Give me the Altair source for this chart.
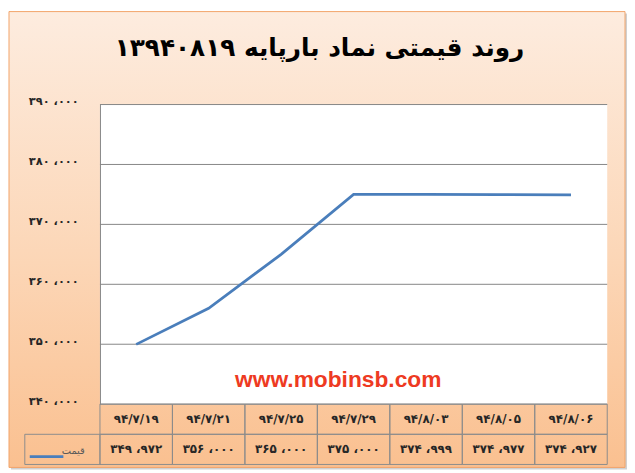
import altair as alt
import pandas as pd

# ---- data ----
dates = ["۹۴/۷/۱۹", "۹۴/۷/۲۱", "۹۴/۷/۲۵", "۹۴/۷/۲۹", "۹۴/۸/۰۳", "۹۴/۸/۰۵", "۹۴/۸/۰۶"]
prices = [349972, 356000, 365000, 375000, 374999, 374977, 374927]
y_ticks = [340000, 350000, 360000, 370000, 380000, 390000]
title_text = "روند قیمتی نماد بارپایه ۱۳۹۴۰۸۱۹"
legend_label = "قیمت"
watermark = "www.mobinsb.com"

FA = "۰۱۲۳۴۵۶۷۸۹"


def fa_num(v):
    s = f"{v:,}".replace(",", " ،")
    return "".join(FA[int(c)] if c.isdigit() else c for c in s)


def fa_expr(e):
    for d in range(10):
        e = f"replace({e}, regexp('{d}', 'g'), '{FA[d]}')"
    return e


label_expr = fa_expr("replace(format(datum.value, ','), regexp(',', 'g'), ' ،')")

W, H = 513, 303
ROW_H = 61
LINE_COLOR = "#4A7EBB"
GRID = "#868686"

df = pd.DataFrame({"date": dates, "price": prices})
grid_df = pd.DataFrame({"v": y_ticks})
one = pd.DataFrame({"k": [0]})
table = pd.concat([
    pd.DataFrame({"date": dates, "row": "d", "text": dates}),
    pd.DataFrame({"date": dates, "row": "p", "text": [fa_num(p) for p in prices]}),
])

yscale = alt.Scale(domain=[340000, 390000], nice=False, zero=False)
yaxis = alt.Axis(values=y_ticks, labelExpr=label_expr, title=None, grid=False, ticks=False,
                 domain=True, domainColor=GRID, labelPadding=22, labelOffset=-3,
                 labelFont="DejaVu Sans", labelFontWeight="bold", labelFontSize=11.5,
                 labelColor="#262626", zindex=1)
xpt = alt.X("date:N", sort=dates, scale=alt.Scale(type="point", padding=0.5), axis=None)

grad = alt.Gradient(
    gradient="linear",
    stops=[alt.GradientStop(color="#FDECDF", offset=0),
           alt.GradientStop(color="#FCD6B6", offset=0.55),
           alt.GradientStop(color="#FAC090", offset=1)],
    x1=0, x2=0, y1=0, y2=1)

shadow = alt.Chart(one).mark_rect(fill="#D0D0D0").encode(
    x=alt.value(-90), x2=alt.value(533), y=alt.value(-92), y2=alt.value(369))
bg = alt.Chart(one).mark_rect(fill=grad, stroke="#F2A46A", strokeWidth=1).encode(
    x=alt.value(-92), x2=alt.value(531), y=alt.value(-94), y2=alt.value(367))
white = alt.Chart(one).mark_rect(fill="white").encode(
    x=alt.value(0), x2=alt.value(W), y=alt.value(0), y2=alt.value(H))
grid = alt.Chart(grid_df).mark_rule(color=GRID, strokeWidth=1).encode(
    y=alt.Y("v:Q", scale=yscale, axis=yaxis), x=alt.value(0), x2=alt.value(W))
line = alt.Chart(df).mark_line(color=LINE_COLOR, strokeWidth=2.75).encode(
    x=xpt, y=alt.Y("price:Q", scale=yscale, axis=yaxis))
wm = alt.Chart(one).mark_text(text=watermark, font="Liberation Sans", fontWeight="bold",
                              fontSize=23, color="#EE3A22").encode(
    x=alt.value(241), y=alt.value(279))
ttext = alt.Chart(one).mark_text(text=title_text, font="DejaVu Sans", fontWeight="bold",
                                 fontSize=25, color="black").encode(
    x=alt.value(222), y=alt.value(-57))

top = alt.layer(shadow, bg, white, grid, line, wm, ttext).properties(width=W, height=H)

xb = alt.X("date:N", sort=dates, scale=alt.Scale(type="band", paddingInner=0, paddingOuter=0), axis=None)
yb = alt.Y("row:N", sort=["d", "p"], scale=alt.Scale(type="band", paddingInner=0, paddingOuter=0,
                                                     domain=["d", "p"]), axis=None)

cells = alt.Chart(table).mark_rect(fillOpacity=0, stroke="#8C8C8C", strokeWidth=1).encode(x=xb, y=yb)
texts = alt.Chart(table).mark_text(font="DejaVu Sans", fontWeight="bold", fontSize=12,
                                   color="#262626").encode(x=xb, y=yb, text="text:N")
lcell = alt.Chart(pd.DataFrame({"row": ["p"]})).mark_rect(fillOpacity=0, stroke="#8C8C8C",
                                                           strokeWidth=1).encode(
    y=yb, x=alt.value(-76), x2=alt.value(0))
lrule = alt.Chart(one).mark_rule(color=LINE_COLOR, strokeWidth=2.75).encode(
    x=alt.value(-71), x2=alt.value(-37), y=alt.value(53))
ltext = alt.Chart(one).mark_text(text=legend_label, font="DejaVu Sans", fontSize=10,
                                 color="#595959").encode(x=alt.value(-27), y=alt.value(47))

bottom = alt.layer(cells, texts, lcell, lrule, ltext).properties(width=W, height=ROW_H)

chart = alt.vconcat(top, bottom, spacing=0, bounds="flush").properties(padding=0).configure_view(stroke=None)

chart.save("out.html", embed_options={"renderer": "svg", "actions": False})
